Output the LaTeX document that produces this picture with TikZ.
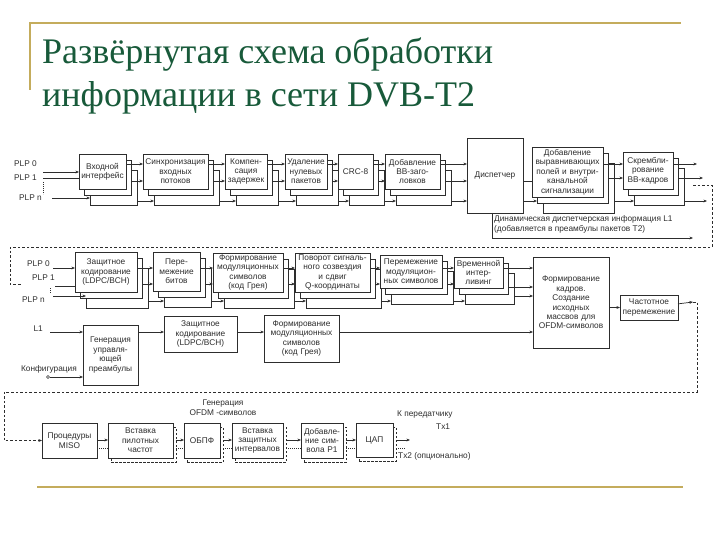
\documentclass[tikz,border=0pt]{standalone}
\usepackage{fontspec}
\setmainfont{Liberation Serif}
\setsansfont{Liberation Sans}
\usetikzlibrary{arrows.meta,positioning,calc}

\definecolor{gold}{RGB}{196,172,92}
\definecolor{titlegreen}{RGB}{24,90,58}
\definecolor{ink}{RGB}{45,45,45}

\tikzset{
    % --- Stage block (front copy) ---
    block/.style = {
        rectangle, draw=ink, fill=white, line width=0.7pt,
        anchor=north west, inner xsep=0pt, inner ysep=1pt, outer sep=0pt,
        align=center, text=ink,
        font=\sffamily\fontsize{8.3}{9.4}\selectfont
    },
    % --- Hidden copy behind a stage (one per PLP) ---
    layer/.style = {
        rectangle, draw=ink, fill=white, line width=0.7pt,
        anchor=north west, inner sep=0pt, outer sep=0pt
    },
    % --- Dashed copy (optional second transmitter) ---
    shade box/.style = {
        rectangle, draw=ink, line width=0.7pt, dash pattern=on 2.5pt off 1.5pt,
        anchor=north west, inner sep=0pt, outer sep=0pt
    },
    % --- Port / free text ---
    tag/.style = {
        text=ink, inner sep=0pt,
        font=\sffamily\fontsize{8.3}{9.4}\selectfont
    },
    % --- Connectors ---
    data arrow/.style = {
        draw=ink, line width=0.7pt, -{Stealth[length=3.6pt,width=2.9pt]}
    },
    wire/.style = {draw=ink, line width=0.7pt},
    loop wire/.style = {draw=ink, line width=0.7pt, dash pattern=on 2.6pt off 2pt},
    opt wire/.style = {draw=ink, line width=0.7pt, dash pattern=on 0.8pt off 1.2pt},
    terminal/.style = {
        circle, draw=ink, fill=white, line width=0.6pt,
        inner sep=0pt, minimum size=3pt
    }
}

% stage with two hidden copies: name, x, y, width, height, text
\newcommand{\stackbox}[6]{%
    \node[layer, minimum width=#4pt, minimum height=#5pt] (#1-3) at (#2+11,#3+16) {};
    \node[layer, minimum width=#4pt, minimum height=#5pt] (#1-2) at (#2+5,#3+6) {};
    \node[block, text width=#4pt, minimum height=#5pt] (#1) at (#2,#3) {#6};
}
% stage with a dashed copy: name, x, y, width, height, text
\newcommand{\txbox}[6]{%
    \node[shade box, minimum width=#4pt, minimum height=#5pt] (#1-s) at (#2+3,#3+4) {};
    \node[block, text width=#4pt, minimum height=#5pt] (#1) at (#2,#3) {#6};
}
% PLP links between two stacked stages: from, to, y front, y middle, y back
\newcommand{\plplinks}[5]{%
    \draw[data arrow] (#1.east |- 0,#3) -- (#2.west |- 0,#3);
    \draw[data arrow] (#1-2.east |- 0,#4) -- (#2.west |- 0,#4);
    \draw[data arrow] (#1-3.east |- 0,#5) -- (#2-3.west |- 0,#5);
}
% main and optional transmitter links
\newcommand{\txlinks}[2]{%
    \draw[data arrow] (#1.east |- 0,440) -- (#2.west |- 0,440);
    \draw[opt wire] (#1.east |- 0,448) -- (#2.west |- 0,448);
}

\begin{document}
\begin{tikzpicture}[x=1pt, y=-1pt]
\useasboundingbox (0,0) rectangle (720,540);

% ---------------------------------------------------------
% Title
% ---------------------------------------------------------
\draw[gold, line width=2pt] (30,90) -- (30,23) -- (681,23);
\node[anchor=base west, inner sep=0pt, text=titlegreen, font=\fontsize{36}{40}\selectfont]
    (title1) at (42,64) {Развёрнутая схема обработки};
\node[anchor=base west, inner sep=0pt, text=titlegreen, font=\fontsize{36}{40}\selectfont]
    (title2) at (42,107) {информации в сети DVB-T2};
\draw[gold, line width=2.5pt] (37,487) -- (683,487);

% ---------------------------------------------------------
% Row 1: input processing
% ---------------------------------------------------------
\node[tag, anchor=east] (plpA0) at (37,164) {PLP 0};
\node[tag, anchor=east] (plpA1) at (37,178) {PLP 1};
\node[tag, anchor=east] (plpAn) at (42,198) {PLP n};
\coordinate (inA0) at (43,172);
\coordinate (inA1) at (43,178);
\coordinate (inAn) at (52,198);

\stackbox{inif}{79}{154}{47}{35}{Входной\\интерфейс}
\stackbox{sync}{143}{154}{65}{35}{Синхронизация\\входных\\потоков}
\stackbox{comp}{225}{154}{42}{35}{Компен-\\сация\\задержек}
\stackbox{nullrm}{285}{154}{42}{35}{Удаление\\нулевых\\пакетов}
\stackbox{crc}{338}{154}{35}{35}{CRC-8}
\stackbox{bbhdr}{385}{154}{55}{35}{Добавление\\BB-заго-\\ловков}
\node[block, text width=56pt, minimum height=75pt] (disp) at (467,138) {Диспетчер};
\stackbox{pad}{532}{147}{71}{50}{Добавление\\выравнивающих\\полей и внутри-\\канальной\\сигнализации}
\stackbox{scram}{623}{152}{50}{37}{Скрембли-\\рование\\BB-кадров}

\draw[data arrow] (inA0) -- (inif.west |- inA0);
\draw[wire] (inA1) -- (inif.west |- inA1);
\draw[opt wire] (43,182) -- (43,194);
\draw[data arrow] (inAn) -- (inif-3.west |- inAn);

\plplinks{inif}{sync}{164}{181}{201}
\plplinks{sync}{comp}{164}{181}{201}
\plplinks{comp}{nullrm}{164}{181}{201}
\plplinks{nullrm}{crc}{164}{181}{201}
\plplinks{crc}{bbhdr}{164}{181}{201}
\draw[data arrow] (bbhdr.east |- 0,164) -- (disp.west |- 0,164);
\draw[data arrow] (bbhdr-2.east |- 0,181) -- (disp.west |- 0,181);
\draw[data arrow] (bbhdr-3.east |- 0,201) -- (disp.west |- 0,201);
\draw[wire] (disp.east |- 0,181) -- (pad.west |- 0,181);
\draw[data arrow] (disp.east |- 0,201) -- (pad-2.west |- 0,201);
\plplinks{pad}{scram}{164}{178}{201}

\coordinate (sc0) at (697,164);
\coordinate (sc1) at (703,178);
\coordinate (sc2) at (707,201);
\draw[data arrow] (scram.east |- sc0) -- (sc0);
\draw[data arrow] (scram-2.east |- sc1) -- (sc1);
\draw[data arrow] (scram-3.east |- sc2) -- (sc2);

% Dynamic L1 info
\coordinate (dynout) at (693,238);
\draw[data arrow] (disp.south -| 492,0) |- (dynout);
\node[tag, anchor=west, align=left] (dyntext) at (494,224.5)
    {Динамическая диспетчерская информация L1\\(добавляется в преамбулы пакетов T2)};

% Loop to row 2
\coordinate (loopA) at (693,185);
\coordinate (loopAturn) at (712,247);
\coordinate (loopAback) at (10,247);
\coordinate (loopAend) at (22,284);
\draw[loop wire] (loopA) -| (loopAturn) -- (loopAback) |- (loopAend);

% ---------------------------------------------------------
% Row 2: bit interleaved coding and modulation
% ---------------------------------------------------------
\node[tag, anchor=east] (plpB0) at (50,264) {PLP 0};
\node[tag, anchor=east] (plpB1) at (55,278) {PLP 1};
\node[tag, anchor=east] (plpBn) at (45,300) {PLP n};
\coordinate (inB0) at (53,268);
\coordinate (inB1) at (55,286);
\coordinate (inBn) at (53,296);

\stackbox{fec}{75}{252}{62}{40}{Защитное\\кодирование\\(LDPC/BCH)}
\stackbox{bitil}{153}{252}{47}{39}{Пере-\\межение\\битов}
\stackbox{qam}{213}{253}{70}{39}{Формирование\\модуляционных\\символов\\(код Грея)}
\stackbox{rot}{295}{253}{75}{39}{Поворот сигналь-\\ного созвездия\\и сдвиг\\Q-координаты}
\stackbox{cellil}{380}{255}{62}{33}{Перемежение\\модуляцион-\\ных символов}
\stackbox{timeil}{454}{257}{49}{31}{Временной\\интер-\\ливинг}
\node[block, text width=76pt, minimum height=91pt] (frame) at (533,257)
    {Формирование\\кадров.\\Создание\\исходных\\массвов для\\OFDM-символов};
\node[block, text width=58pt, minimum height=25pt] (freqil) at (620,295)
    {Частотное\\перемежение};

\draw[data arrow] (inB0) -- (fec.west |- inB0);
\draw[wire] (inB1) -- (fec.west |- inB1);
\draw[opt wire] (50,288) -- (50,293);
\draw[data arrow] (inBn) -- (fec-3.west |- inBn);

\plplinks{fec}{bitil}{268}{284}{301}
\plplinks{bitil}{qam}{268}{284}{301}
\plplinks{qam}{rot}{268}{284}{301}
\plplinks{rot}{cellil}{268}{284}{301}
\plplinks{cellil}{timeil}{268}{284}{301}
\draw[data arrow] (timeil.east |- 0,268) -- (frame.west |- 0,268);
\draw[data arrow] (timeil-2.east |- 0,287) -- (frame.west |- 0,287);
\draw[data arrow] (timeil-3.east |- 0,296) -- (frame.west |- 0,296);
\draw[data arrow] (frame.east |- freqil) -- (freqil);

% ---------------------------------------------------------
% Row 3: L1 signalling
% ---------------------------------------------------------
\node[tag, anchor=east] (l1lab) at (43,329) {L1};
\node[tag, anchor=east] (cfglab) at (77,369) {Конфигурация};
\coordinate (l1in) at (50,332);
\node[terminal] (cfgin) at (48,377) {};

\node[block, text width=55pt, minimum height=60pt] (l1gen) at (83,325)
    {Генерация\\управля-\\ющей\\преамбулы};
\node[block, text width=73pt, minimum height=36pt] (l1fec) at (164,316)
    {Защитное\\кодирование\\(LDPC/BCH)};
\node[block, text width=75pt, minimum height=47pt] (l1qam) at (264,315)
    {Формирование\\модуляционных\\символов\\(код Грея)};

\draw[data arrow] (l1in) -- (l1gen.west |- l1in);
\draw[data arrow] (cfgin) -- (l1gen.west |- cfgin);
\draw[data arrow] (l1gen.east |- 0,332) -- (l1fec.west |- 0,332);
\draw[data arrow] (l1fec.east |- 0,332) -- (l1qam.west |- 0,332);
\draw[data arrow] (l1qam.east |- 0,332) -- (frame.west |- 0,332);

% Loop to row 4
\coordinate (fqout) at (693,302);
\coordinate (loopBturn) at (697,392);
\coordinate (loopBback) at (4,392);
\draw[data arrow] (freqil) -- (fqout);

% ---------------------------------------------------------
% Row 4: OFDM generation
% ---------------------------------------------------------
\node[block, text width=55pt, minimum height=35pt] (miso) at (42,423) {Процедуры\\MISO};
\txbox{pilot}{108}{423}{65}{35}{Вставка\\пилотных\\частот}
\txbox{ifft}{184}{423}{36}{35}{ОБПФ}
\txbox{guard}{232}{423}{51}{35}{Вставка\\защитных\\интервалов}
\txbox{p1}{301}{423}{42}{35}{Добавле-\\ние сим-\\вола P1}
\txbox{dac}{356}{423}{37}{34}{ЦАП}

\draw[data arrow, loop wire] (fqout) -| (loopBturn) -- (loopBback) |- (miso.west);

\node[tag, align=center] (ofdmlab) at (223,407.5) {Генерация\\OFDM -символов};

\txlinks{miso}{pilot}
\txlinks{pilot-s}{ifft}
\txlinks{ifft-s}{guard}
\txlinks{guard-s}{p1}
\txlinks{p1-s}{dac}

\coordinate (tx1) at (410,440);
\coordinate (tx2) at (405,448);
\draw[data arrow] (dac-s.east |- tx1) -- (tx1);
\draw[opt wire] (dac-s.east |- tx2) -- (tx2);
\node[tag, anchor=west] (tx1lab) at (397,415) {К передатчику};
\node[tag, anchor=west] (tx1name) at (436,427) {Tx1};
\node[tag, anchor=west] (tx2lab) at (398,456) {Tx2 (опционально)};

\end{tikzpicture}
\end{document}
